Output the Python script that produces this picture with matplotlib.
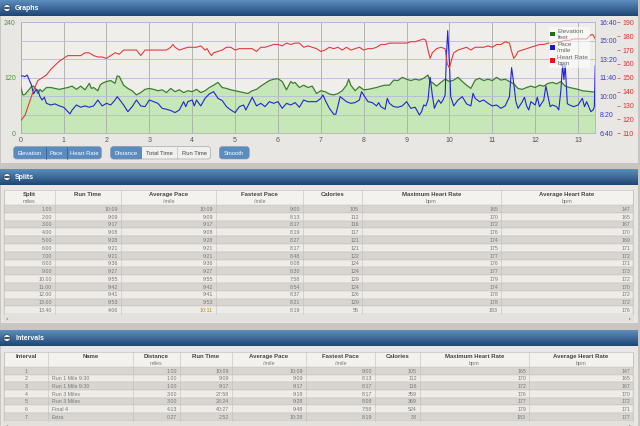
import matplotlib.pyplot as plt
import numpy as np
from matplotlib.patches import Rectangle, FancyBboxPatch, Circle

plt.rcParams['font.family'] = ['Liberation Sans', 'DejaVu Sans']

# ---- graph data ----
elev_mi = [0, 0.05, 0.1, 0.2, 0.25, 0.3, 0.35, 0.4, 0.45, 0.5,
           0.6, 0.7, 0.8, 0.9, 1.0, 1.1, 1.2, 1.3, 1.4, 1.5,
           1.6, 1.65, 1.7, 1.8, 1.85, 1.9, 2.0, 2.1, 2.2, 2.25,
           2.3, 2.4, 2.5, 2.6, 2.7, 2.8, 2.9, 3.0, 3.1, 3.2,
           3.3, 3.4, 3.5, 3.6, 3.7, 3.8, 3.9, 4.0, 4.1, 4.2,
           4.3, 4.4, 4.5, 4.6, 4.7, 4.8, 4.9, 5.0, 5.1, 5.2,
           5.3, 5.4, 5.5, 5.6, 5.7, 5.8, 5.9, 6.0, 6.1, 6.2,
           6.3, 6.35, 6.4, 6.5, 6.6, 6.7, 6.8, 6.9, 7.0, 7.1,
           7.2, 7.3, 7.4, 7.5, 7.6, 7.65, 7.7, 7.8, 7.9, 8.0,
           8.1, 8.2, 8.3, 8.4, 8.5, 8.6, 8.7, 8.8, 8.9, 9.0,
           9.1, 9.2, 9.3, 9.4, 9.5, 9.55, 9.6, 9.7, 9.8, 9.9,
           10.0, 10.1, 10.2, 10.3, 10.4, 10.5, 10.6, 10.7, 10.8, 10.9,
           11.0, 11.1, 11.2, 11.3, 11.4, 11.5, 11.6, 11.7, 11.8, 11.9,
           12.0, 12.1, 12.2, 12.3, 12.4, 12.5, 12.6, 12.7, 12.8, 12.9,
           13.0, 13.1, 13.2, 13.3, 13.4]
elev_ft = [100, 83, 84, 95, 101, 102, 97, 86, 95, 90,
           99, 99, 97, 95, 97, 99, 102, 95, 102, 94,
           108, 97, 99, 92, 104, 108, 112, 114, 108, 124,
           123, 104, 97, 92, 83, 88, 95, 97, 95, 92,
           94, 88, 97, 90, 94, 88, 92, 90, 95, 88,
           92, 99, 104, 110, 99, 97, 94, 92, 90, 88,
           86, 92, 95, 102, 108, 114, 117, 118, 112, 94,
           112, 108, 110, 99, 104, 99, 102, 86, 92, 90,
           85, 83, 86, 92, 104, 117, 104, 92, 101, 94,
           95, 97, 99, 102, 104, 104, 115, 114, 121, 117,
           114, 117, 115, 119, 126, 112, 110, 102, 110, 117,
           112, 115, 121, 112, 104, 97, 115, 119, 114, 117,
           114, 121, 115, 117, 112, 107, 97, 95, 99, 102,
           99, 104, 102, 108, 110, 107, 112, 102, 99, 97,
           95, 92, 91, 90, 89]

pace_mi = [0, 0.05, 0.1, 0.15, 0.2, 0.25, 0.3, 0.35, 0.4, 0.45,
           0.5, 0.55, 0.6, 0.7, 0.8, 0.9, 1.0, 1.1, 1.15, 1.2,
           1.3, 1.4, 1.5, 1.6, 1.7, 1.8, 1.9, 2.0, 2.1, 2.2,
           2.25, 2.3, 2.4, 2.5, 2.6, 2.7, 2.8, 2.9, 3.0, 3.1,
           3.2, 3.3, 3.4, 3.5, 3.6, 3.7, 3.8, 3.85, 3.9, 4.0,
           4.05, 4.1, 4.2, 4.3, 4.4, 4.5, 4.6, 4.7, 4.8, 4.9,
           5.0, 5.1, 5.2, 5.25, 5.3, 5.4, 5.5, 5.6, 5.7, 5.8,
           5.9, 6.0, 6.1, 6.2, 6.3, 6.4, 6.5, 6.6, 6.7, 6.8,
           6.9, 7.0, 7.05, 7.1, 7.2, 7.3, 7.35, 7.4, 7.45, 7.5,
           7.6, 7.7, 7.8, 7.9, 7.95, 8.0, 8.1, 8.2, 8.3, 8.35,
           8.4, 8.5, 8.55, 8.6, 8.7, 8.8, 8.9, 9.0, 9.1, 9.2,
           9.3, 9.35, 9.4, 9.45, 9.5, 9.55, 9.6, 9.65, 9.7, 9.75,
           9.8, 9.85, 9.9, 9.93, 9.96, 10.0, 10.03, 10.1, 10.2, 10.3, 10.4,
           10.5, 10.55, 10.6, 10.7, 10.8, 10.9, 11.0, 11.1, 11.2, 11.3,
           11.4, 11.45, 11.5, 11.55, 11.6, 11.7, 11.75, 11.8, 11.85, 11.9,
           12.0, 12.05, 12.1, 12.2, 12.25, 12.3, 12.35, 12.4, 12.5, 12.55,
           12.6, 12.64, 12.67, 12.7, 12.75, 12.8, 12.9, 13.0, 13.1, 13.15, 13.2,
           13.3, 13.35, 13.38, 13.4]
pace_s = [710, 710, 706, 715, 688, 661, 613, 634, 634, 598,
          580, 595, 562, 553, 559, 548, 541, 517, 505, 526,
          553, 541, 548, 541, 548, 580, 548, 562, 553, 580,
          598, 584, 553, 517, 544, 580, 548, 544, 580, 571,
          562, 535, 530, 523, 512, 526, 571, 544, 571, 580,
          548, 580, 548, 589, 613, 625, 589, 577, 544, 526,
          512, 544, 553, 526, 548, 595, 548, 562, 544, 571,
          562, 571, 535, 562, 553, 566, 541, 580, 571, 571,
          571, 589, 607, 580, 535, 503, 503, 548, 598, 589,
          571, 562, 566, 580, 625, 607, 571, 566, 548, 566,
          544, 530, 589, 562, 544, 541, 548, 571, 535, 541,
          499, 517, 553, 548, 580, 703, 607, 535, 562, 580,
          562, 580, 607, 820, 955, 780, 598, 548, 580, 598, 559,
          548, 616, 589, 571, 580, 562, 548, 553, 535, 548,
          598, 755, 670, 571, 535, 571, 595, 548, 526, 571,
          553, 595, 544, 580, 656, 598, 544, 553, 544, 526,
          634, 775, 690, 770, 560, 553, 544, 553, 589, 544, 571,
          517, 526, 544, 765]

hr_mi = [0, 0.1, 0.2, 0.3, 0.4, 0.5, 0.6, 0.7, 0.8, 0.9,
         1.0, 1.1, 1.2, 1.3, 1.4, 1.5, 1.6, 1.7, 1.8, 1.9,
         2.0, 2.1, 2.2, 2.3, 2.4, 2.5, 2.6, 2.7, 2.8, 2.9,
         3.0, 3.1, 3.2, 3.3, 3.4, 3.5, 3.55, 3.6, 3.7, 3.8,
         3.9, 4.0, 4.1, 4.2, 4.3, 4.35, 4.4, 4.45, 4.5, 4.6,
         4.7, 4.8, 4.9, 5.0, 5.1, 5.2, 5.3, 5.4, 5.5, 5.6,
         5.7, 5.8, 5.9, 6.0, 6.1, 6.2, 6.3, 6.4, 6.5, 6.6,
         6.7, 6.8, 6.9, 7.0, 7.1, 7.2, 7.3, 7.4, 7.5, 7.6,
         7.7, 7.8, 7.9, 8.0, 8.1, 8.2, 8.3, 8.4, 8.5, 8.6,
         8.7, 8.8, 8.9, 9.0, 9.1, 9.2, 9.3, 9.4, 9.45, 9.5,
         9.55, 9.6, 9.7, 9.8, 9.9, 9.95, 10.0, 10.05, 10.1, 10.2,
         10.3, 10.4, 10.5, 10.6, 10.7, 10.8, 10.9, 11.0, 11.1, 11.2,
         11.3, 11.4, 11.45, 11.5, 11.55, 11.6, 11.7, 11.8, 11.9, 12.0,
         12.1, 12.2, 12.3, 12.4, 12.5, 12.6, 12.7, 12.8, 12.9, 13.0,
         13.1, 13.2, 13.3, 13.35, 13.4]
hr_bpm = [119, 123, 132, 141, 148, 150, 152, 156, 159, 162,
          164, 166, 166, 166, 166, 168, 168, 166, 165, 165,
          164, 166, 168, 167, 170, 170, 170, 170, 166, 170,
          170, 170, 170, 170, 170, 172, 174, 172, 170, 171,
          172, 172, 172, 173, 170, 171, 168, 166, 168, 169,
          170, 172, 172, 170, 171, 171, 171, 171, 169, 172,
          172, 173, 174, 174, 173, 175, 174, 175, 175, 172,
          173, 172, 171, 169, 170, 172, 171, 172, 170, 172,
          170, 171, 172, 170, 171, 171, 172, 174, 174, 175,
          175, 175, 175, 175, 176, 176, 177, 178, 177, 170,
          164, 168, 171, 172, 171, 160, 157, 163, 168, 170,
          171, 172, 170, 172, 172, 172, 173, 172, 174, 174,
          176, 175, 169, 164, 166, 169, 170, 171, 172, 173,
          174, 174, 175, 175, 176, 176, 177, 177, 178, 178,
          178, 178, 181, 181, 178]

x_ticks = list(range(14))
elev_ticks = [0, 120, 240]
pace_ticks = [400, 500, 600, 700, 800, 900, 1000]
hr_ticks = [110, 120, 130, 140, 150, 160, 170, 180, 190]

# ---- splits table ----
split_heads = ["Split", "Run Time", "Average Pace", "Fastest Pace", "Calories",
               "Maximum Heart Rate", "Average Heart Rate"]
split_units = ["miles", "", "/mile", "/mile", "", "bpm", "bpm"]
split_dist = ["1.00", "2.00", "3.00", "4.00", "5.00", "6.00", "7.00", "8.00", "9.00",
              "10.00", "11.00", "12.00", "13.00", "13.40"]
split_time = ["10:09", "9:09", "9:17", "9:08", "9:28", "9:21", "9:21", "9:36", "9:27",
              "9:55", "9:42", "9:41", "9:53", "4:06"]
split_avg = ["10:09", "9:09", "9:17", "9:08", "9:28", "9:21", "9:21", "9:36", "9:27",
             "9:55", "9:42", "9:41", "9:53", "10:11"]
split_fast = ["9:00", "8:13", "8:17", "8:19", "8:27", "8:17", "8:48", "8:08", "8:30",
              "7:58", "8:54", "8:37", "8:21", "8:19"]
split_cal = ["105", "112", "116", "117", "121", "121", "122", "124", "124", "129",
             "124", "126", "129", "55"]
split_maxhr = ["165", "170", "172", "176", "174", "175", "177", "176", "177", "179",
               "174", "178", "178", "183"]
split_avghr = ["147", "165", "167", "170", "169", "171", "172", "171", "173", "172",
               "170", "172", "172", "176"]

# ---- intervals table ----
int_heads = ["Interval", "Name", "Distance", "Run Time", "Average Pace", "Fastest Pace",
             "Calories", "Maximum Heart Rate", "Average Heart Rate"]
int_units = ["", "", "miles", "", "/mile", "/mile", "", "bpm", "bpm"]
int_num = ["1", "2", "3", "4", "5", "6", "7"]
int_name = ["", "Run 1 Mile 9:30", "Run 1 Mile 9:30", "Run 3 Miles", "Run 3 Miles",
            "Final 4", "Extra"]
int_dist = ["1.00", "1.00", "1.00", "3.00", "3.00", "4.13", "0.27"]
int_time = ["10:09", "9:09", "9:17", "27:58", "28:24", "40:27", "2:52"]
int_avg = ["10:09", "9:09", "9:17", "9:19", "9:28", "9:48", "10:28"]
int_fast = ["9:00", "8:13", "8:17", "8:17", "8:08", "7:58", "8:19"]
int_cal = ["105", "112", "116", "359", "369", "524", "38"]
int_maxhr = ["165", "170", "172", "176", "177", "179", "183"]
int_avghr = ["147", "165", "167", "170", "172", "171", "177"]

W, H = 640, 426
fig = plt.figure(figsize=(W / 100, H / 100), dpi=100)
bg = fig.add_axes([0, 0, 1, 1])
bg.axis('off')
bg.add_patch(Rectangle((0, 0), W, H, fc='#c9c5bf', ec='none', zorder=0))


def header(y0, title):
    g = np.linspace(0, 1, 16)[:, None, None]
    top = np.array([0.36, 0.55, 0.74])
    bot = np.array([0.12, 0.28, 0.46])
    img = top + (bot - top) * g
    bg.imshow(img, extent=(0, 638, y0 + 16, y0), aspect='auto', origin='upper', zorder=1)
    bg.add_patch(Circle((7, y0 + 8), 3.4, fc='#f2f2f2', ec='#10253d', lw=0.4, zorder=2))
    bg.plot([5.0, 9.0], [y0 + 8, y0 + 8], color='#10253d', lw=1.1, zorder=3)
    bg.text(15, y0 + 8.3, title, color='white', fontsize=5, fontweight='bold',
            va='center', zorder=3)


# panels
bg.add_patch(Rectangle((1, 16), 637, 147, fc='#e9e7e3', ec='none', zorder=1))
bg.add_patch(Rectangle((1, 185), 637, 138, fc='#e9e7e3', ec='none', zorder=1))
bg.add_patch(Rectangle((1, 346), 637, 80, fc='#e9e7e3', ec='none', zorder=1))
header(0, "Graphs")
header(169, "Splits")
header(330, "Intervals")


def button(x0, x1, y0, y1, label, on):
    fc = '#5a8cbf' if on else '#f1f0ec'
    bg.add_patch(Rectangle((x0, y0), x1 - x0, y1 - y0, fc=fc, ec='#9aa6b2', lw=0.4, zorder=2))
    bg.text((x0 + x1) / 2, (y0 + y1) / 2 + 0.3, label, ha='center', va='center',
            fontsize=4.2, color='white' if on else '#444', zorder=3)


def rounded(x0, x1, y0, y1, fc):
    bg.add_patch(FancyBboxPatch((x0, y0), x1 - x0, y1 - y0,
                                boxstyle='round,pad=0,rounding_size=3',
                                fc=fc, ec='#8c9bb0', lw=0.4, zorder=2))


by0, by1 = 146.5, 159
rounded(13.5, 101.5, by0, by1, '#5a8cbf')
for x0, x1, lab in [(13.5, 45.7, "Elevation"), (45.7, 66.7, "Pace"), (66.7, 101.5, "Heart Rate")]:
    bg.text((x0 + x1) / 2, (by0 + by1) / 2 + 0.3, lab, ha='center', va='center',
            fontsize=4.2, color='white', zorder=3)
for x in [45.7, 66.7]:
    bg.plot([x, x], [by0, by1], color='#2f5a86', lw=0.5, zorder=3)
rounded(110.7, 210.7, by0, by1, '#f1f0ec')
rounded(110.7, 141.7, by0, by1, '#5a8cbf')
bg.add_patch(Rectangle((137, by0), 4.7, by1 - by0, fc='#5a8cbf', ec='none', zorder=2.5))
for x0, x1, lab, on in [(110.7, 141.7, "Distance", True), (141.7, 177.3, "Total Time", False),
                        (177.3, 210.7, "Run Time", False)]:
    bg.text((x0 + x1) / 2, (by0 + by1) / 2 + 0.3, lab, ha='center', va='center',
            fontsize=4.2, color='white' if on else '#444', zorder=3)
bg.plot([177.3, 177.3], [by0, by1], color='#c4c2bd', lw=0.5, zorder=3)
rounded(219.3, 249.3, by0, by1, '#5a8cbf')
bg.text(234.3, (by0 + by1) / 2 + 0.3, "Smooth", ha='center', va='center',
        fontsize=4.2, color='white', zorder=3)


def draw_table(xs, top, head_h, row_h, heads, units, cols, aligns, special=None):
    n = len(cols[0])
    x0, x1 = xs[0], xs[-1]
    bg.add_patch(Rectangle((x0, top), x1 - x0, head_h, fc='#f3f2ef', ec='#bdbab5', lw=0.4, zorder=2))
    for i, h in enumerate(heads):
        cx = (xs[i] + xs[i + 1]) / 2
        bg.text(cx, top + 4.5, h, ha='center', va='center', fontsize=4.3,
                fontweight='bold', color='#444', zorder=3)
        if units[i]:
            bg.text(cx, top + 11.5, units[i], ha='center', va='center', fontsize=4.0,
                    color='#7a7a7a', zorder=3)
    for r in range(n):
        y = top + head_h + r * row_h
        fc = '#d8d5d0' if r % 2 == 0 else '#eeece9'
        bg.add_patch(Rectangle((x0, y), x1 - x0, row_h, fc=fc, ec='#c0bdb8', lw=0.3, zorder=2))
        for i, col in enumerate(cols):
            color = '#777777'
            if special and special == (i, r):
                color = '#b8891c'
            if aligns[i] == 'r':
                bg.text(xs[i + 1] - 3, y + row_h / 2 + 0.3, col[r], ha='right', va='center',
                        fontsize=3.8, color=color, zorder=3)
            elif aligns[i] == 'c':
                bg.text((xs[i] + xs[i + 1]) / 2, y + row_h / 2 + 0.3, col[r], ha='center',
                        va='center', fontsize=3.8, color=color, zorder=3)
            else:
                bg.text(xs[i] + 4, y + row_h / 2 + 0.3, col[r], ha='left', va='center',
                        fontsize=3.8, color=color, zorder=3)
    bottom = top + head_h + n * row_h
    for x in xs:
        bg.plot([x, x], [top, bottom], color='#c2bfba', lw=0.4, zorder=3)
    # scroll bar row
    bg.add_patch(Rectangle((x0 - 1, bottom), x1 - x0 + 2, 8, fc='#e3e1dd', ec='none', zorder=2))
    bg.text(x0 + 2, bottom + 4, "◂", fontsize=3, color='#888', va='center', zorder=3)
    bg.text(x1 - 2, bottom + 4, "▸", fontsize=3, color='#888', va='center', ha='right', zorder=3)


draw_table([4, 55, 121, 216, 303, 362, 501, 633], 190, 15, 7.8,
           split_heads, split_units,
           [split_dist, split_time, split_avg, split_fast, split_cal, split_maxhr, split_avghr],
           ['r'] * 7, special=(2, 13))
draw_table([4, 48, 133, 180, 232, 306, 375, 420, 529, 633], 352, 15, 7.67,
           int_heads, int_units,
           [int_num, int_name, int_dist, int_time, int_avg, int_fast, int_cal, int_maxhr, int_avghr],
           ['c', 'l', 'r', 'r', 'r', 'r', 'r', 'r', 'r'])

bg.set_xlim(0, W)
bg.set_ylim(H, 0)

# ---- the graph ----
pl, pr, pt, pb = 20.7, 595.2, 22.3, 133.3
ax = fig.add_axes([pl / W, 1 - pb / H, (pr - pl) / W, (pb - pt) / H])
ax.set_facecolor('#efeeeb')
ax.fill_between(elev_mi, elev_ft, 0, color='#c6e7b8', lw=0, zorder=1)
ax.plot(elev_mi, elev_ft, color='#3d7d2c', lw=0.9, zorder=3)
ax.set_xlim(0, 13.4)
ax.set_ylim(0, 240)
ax.set_xticks(x_ticks)
ax.set_yticks(elev_ticks)
ax.set_yticks([40, 80, 160, 200], minor=True)
ax.tick_params(axis='x', length=0, pad=2.5, labelsize=5, labelcolor='#555')
ax.tick_params(axis='y', which='both', length=0, pad=3.5, labelsize=5, labelcolor='#4a9a36')
ax.set_axisbelow(False)
ax.grid(axis='x', color='#a9ada5', lw=0.6, zorder=2)
ax.grid(axis='y', which='both', color='#b9b6df', lw=0.6, zorder=2)
for s in ax.spines.values():
    s.set_color('#b3b3b3')
    s.set_linewidth(0.6)

ax2 = ax.twinx()
ax2.plot(pace_mi, pace_s, color='#2424d8', lw=0.8)
ax2.set_ylim(400, 1000)
ax2.set_yticks(pace_ticks)
ax2.set_yticklabels(["%d:%02d" % (v // 60, v % 60) for v in pace_ticks])
ax2.tick_params(axis='y', length=0, pad=3, labelsize=5, labelcolor='#3a3acc')
for s in ax2.spines.values():
    s.set_visible(False)

ax3 = ax.twinx()
ax3.plot(hr_mi, hr_bpm, color='#e23c3c', lw=0.8)
ax3.set_ylim(110, 190)
ax3.set_yticks(hr_ticks)
ax3.spines['right'].set_position(('outward', 16))
for s in ax3.spines.values():
    s.set_visible(False)
ax3.tick_params(axis='y', length=2.5, width=0.5, color='#e23c3c', pad=1, labelsize=5,
                labelcolor='#e03030')

handles = [Rectangle((0, 0), 1, 1, fc='#1e6e1e', ec='none'),
           Rectangle((0, 0), 1, 1, fc='#1a1ad0', ec='none'),
           Rectangle((0, 0), 1, 1, fc='#e01818', ec='none')]
leg = ax3.legend(handles, ["Elevation\nfeet", "Pace\n/mile", "Heart Rate\nbpm"],
                 loc='upper right', bbox_to_anchor=(0.997, 0.985), fontsize=4.6,
                 handlelength=0.7, handleheight=0.7, handletextpad=0.4,
                 labelspacing=0.35, borderpad=0.3, frameon=True, fancybox=False)
leg.get_frame().set_facecolor('white')
leg.get_frame().set_alpha(0.55)
leg.get_frame().set_edgecolor('none')
for t in leg.get_texts():
    t.set_color('#666')

fig.savefig('out.png', dpi=100)
